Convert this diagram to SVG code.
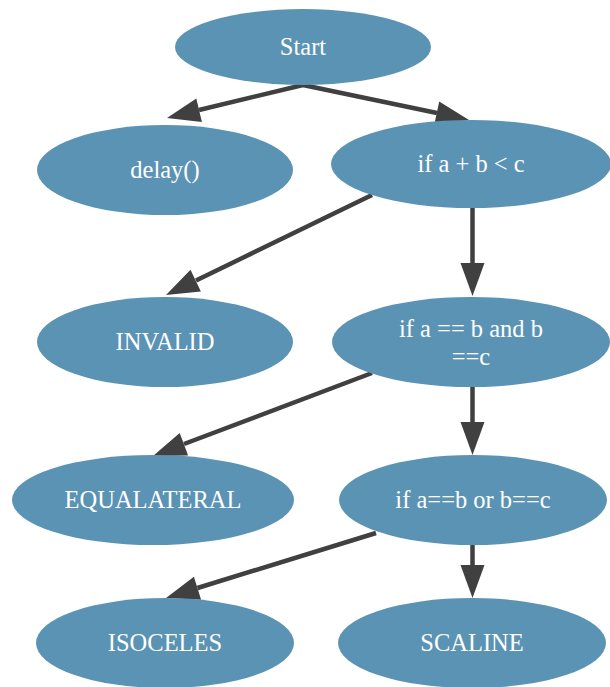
<svg xmlns="http://www.w3.org/2000/svg" width="610" height="687" viewBox="0 0 610 687">
<style>
.node ellipse{fill:#5b93b4;stroke:none}
.node text{fill:#ffffff;font-family:"Liberation Serif","DejaVu Serif",serif;font-size:24.5px;text-anchor:middle}
.edge{stroke:#404040;stroke-width:4.5;fill:none}
.head{fill:#404040;stroke:none}
</style>
<rect width="610" height="687" fill="#ffffff"/>
<g id="connectors">
<line class="edge" x1="303" y1="85" x2="199" y2="110"/>
<polygon class="head" points="167,118 196.3,98.5 201.9,121.9"/>
<line class="edge" x1="303" y1="85" x2="437" y2="113"/>
<polygon class="head" points="469,120 434.2,124.9 439.2,101.5"/>
<line class="edge" x1="372" y1="195" x2="196" y2="280.5"/>
<polygon class="head" points="166,295 190.5,269.8 200.9,291.4"/>
<line class="edge" x1="472.5" y1="208" x2="472.5" y2="264"/>
<polygon class="head" points="472.5,296 460.5,263 484.5,263"/>
<line class="edge" x1="372" y1="373" x2="184" y2="444"/>
<polygon class="head" points="153,456 179.7,433.1 188.1,455.5"/>
<line class="edge" x1="472.5" y1="386" x2="472.5" y2="423"/>
<polygon class="head" points="472.5,455 460.5,422 484.5,422"/>
<line class="edge" x1="376" y1="533" x2="197.5" y2="588"/>
<polygon class="head" points="166,598 193.9,576.7 201.1,599.7"/>
<line class="edge" x1="472.5" y1="545" x2="472.5" y2="566"/>
<polygon class="head" points="472.5,598 460.5,565 484.5,565"/>
</g>
<g id="start" class="node"><ellipse cx="303" cy="47" rx="128" ry="38"/><text x="303" y="55">Start</text></g>
<g id="delay" class="node"><ellipse cx="165" cy="170" rx="128" ry="45"/><text x="165" y="178">delay()</text></g>
<g id="if1" class="node"><ellipse cx="471" cy="164" rx="140" ry="44"/><text x="471" y="172">if a + b &lt; c</text></g>
<g id="invalid" class="node"><ellipse cx="165" cy="342" rx="128" ry="45"/><text x="165" y="350">INVALID</text></g>
<g id="if2" class="node"><ellipse cx="471" cy="342" rx="139" ry="45"/><text x="471" y="337">if a == b and b</text><text x="471" y="365">==c</text></g>
<g id="equalateral" class="node"><ellipse cx="153" cy="500" rx="141" ry="45"/><text x="153" y="508">EQUALATERAL</text></g>
<g id="if3" class="node"><ellipse cx="473" cy="500" rx="134" ry="45"/><text x="473" y="508">if a==b or b==c</text></g>
<g id="isoceles" class="node"><ellipse cx="165" cy="643" rx="129" ry="45"/><text x="165" y="651">ISOCELES</text></g>
<g id="scaline" class="node"><ellipse cx="472" cy="643" rx="134" ry="45"/><text x="472" y="651">SCALINE</text></g>
</svg>
